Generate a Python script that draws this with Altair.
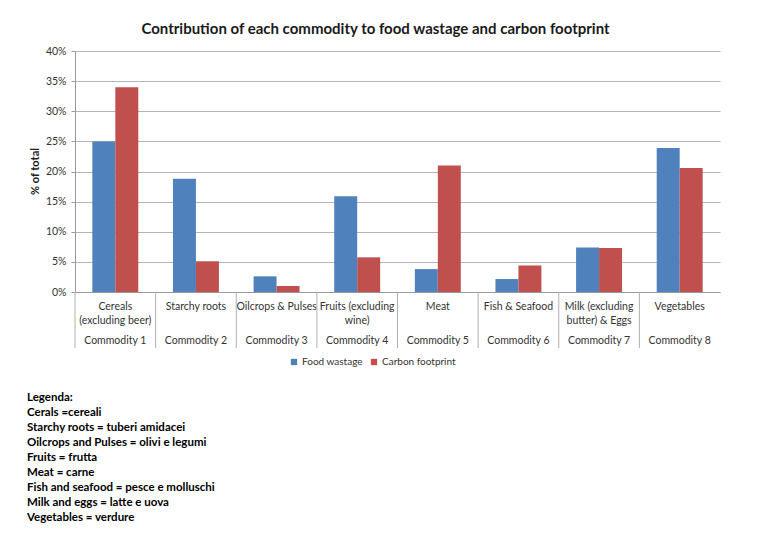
import altair as alt
import pandas as pd

commodities = ["Commodity 1", "Commodity 2", "Commodity 3", "Commodity 4",
               "Commodity 5", "Commodity 6", "Commodity 7", "Commodity 8"]
category_names = ["Cereals\n(excluding beer)", "Starchy roots", "Oilcrops & Pulses",
                  "Fruits (excluding\nwine)", "Meat", "Fish & Seafood",
                  "Milk (excluding\nbutter) & Eggs", "Vegetables"]
series = ["Food wastage", "Carbon footprint"]
food_wastage = [25.0, 18.8, 2.6, 15.9, 3.8, 2.15, 7.4, 23.9]
carbon_footprint = [34.0, 5.1, 1.0, 5.75, 21.0, 4.4, 7.3, 20.6]
y_ticks = [0, 5, 10, 15, 20, 25, 30, 35, 40]
legenda_lines = [
    "Legenda:",
    "Cerals =cereali",
    "Starchy roots = tuberi amidacei",
    "Oilcrops and Pulses = olivi e legumi",
    "Fruits = frutta",
    "Meat = carne",
    "Fish and seafood = pesce e molluschi",
    "Milk and eggs = latte e uova",
    "Vegetables = verdure",
]
title_text = "Contribution of each commodity to food wastage and carbon footprint"

colors = ["#4F81BD", "#C0504D"]
FONT = "Lato"
TXT = "#333333"

rows = []
for c, fw, cf in zip(commodities, food_wastage, carbon_footprint):
    rows.append({"commodity": c, "series": series[0], "value": fw})
    rows.append({"commodity": c, "series": series[1], "value": cf})
bars_df = pd.DataFrame(rows)
cat_df = pd.DataFrame({"commodity": commodities, "name": category_names})
leg_df = pd.DataFrame({"text": ["\n".join(legenda_lines)]})

main_scale = alt.Scale(domain=commodities, paddingInner=0.43, paddingOuter=0.215)

bars = alt.Chart(bars_df).mark_bar().encode(
    x=alt.X("commodity:N", sort=commodities, scale=main_scale,
            axis=alt.Axis(title=None, labels=False, ticks=False, grid=False,
                          domainColor="#999999")),
    xOffset=alt.XOffset("series:N", sort=series,
                        scale=alt.Scale(domain=series, paddingInner=0, paddingOuter=0)),
    y=alt.Y("value:Q", scale=alt.Scale(domain=[0, 40], nice=False),
            axis=alt.Axis(values=y_ticks, labelExpr="datum.value + '%'",
                          title="% of total", titleFont=FONT, titleFontSize=11,
                          titleFontWeight="bold", titleColor="#222222",
                          titleAngle=-90, titleX=-40, titleY=120,
                          titleAlign="center", titleBaseline="middle",
                          labelFont=FONT, labelFontSize=10.5, labelColor=TXT,
                          labelPadding=5, tickSize=4, tickColor="#999999",
                          domainColor="#999999", gridColor="#b5b5b5")),
    color=alt.Color("series:N", sort=series,
                    scale=alt.Scale(domain=series, range=colors),
                    legend=alt.Legend(title=None, orient="none", legendX=214, legendY=306,
                                      direction="horizontal", symbolType="square",
                                      symbolSize=40, symbolStrokeWidth=0,
                                      labelFont=FONT, labelFontSize=10, labelColor=TXT,
                                      labelOffset=3, columnPadding=6, padding=0)),
)

cat_text = alt.Chart(cat_df).mark_text(
    font=FONT, fontSize=10.5, color=TXT, lineBreak="\n", lineHeight=14.5,
    baseline="middle", align="center"
).encode(
    x=alt.X("commodity:N", sort=commodities, scale=main_scale, axis=None),
    y=alt.value(255.5),
    text="name:N",
)

com_text = alt.Chart(cat_df).mark_text(
    font=FONT, fontSize=10.5, color=TXT, baseline="middle", align="center"
).encode(
    x=alt.X("commodity:N", sort=commodities, scale=main_scale, axis=None),
    y=alt.value(290),
    text="commodity:N",
)

seps = alt.Chart(cat_df).mark_rule(color="#b0b0b0", strokeWidth=1).encode(
    x=alt.X("commodity:N", sort=commodities, bandPosition=0,
            scale=alt.Scale(domain=commodities, paddingInner=0, paddingOuter=0),
            axis=None),
    y=alt.value(241),
    y2=alt.value(297),
)

legenda = alt.Chart(leg_df).mark_text(
    font=FONT, fontSize=11.5, fontWeight="bold", color="#000000",
    align="left", baseline="alphabetic", lineBreak="\n", lineHeight=15
).encode(
    x=alt.value(-48),
    y=alt.value(350),
    text="text:N",
)

chart = alt.layer(bars, cat_text, com_text, seps, legenda).resolve_scale(
    x="independent"
).properties(
    width=645,
    height=241,
    autosize=alt.AutoSizeParams(type="none"),
    padding={"left": 75, "top": 51, "right": 58, "bottom": 242},
    background="white",
    title=alt.Title(title_text, font=FONT, fontSize=15, fontWeight="bold",
                    color="#1a1a1a", anchor="middle", frame="group", dx=-22,
                    dy=21, baseline="alphabetic", offset=18),
).configure_view(strokeWidth=0)

chart.save("out.html", embed_options={"renderer": "svg", "actions": False})
